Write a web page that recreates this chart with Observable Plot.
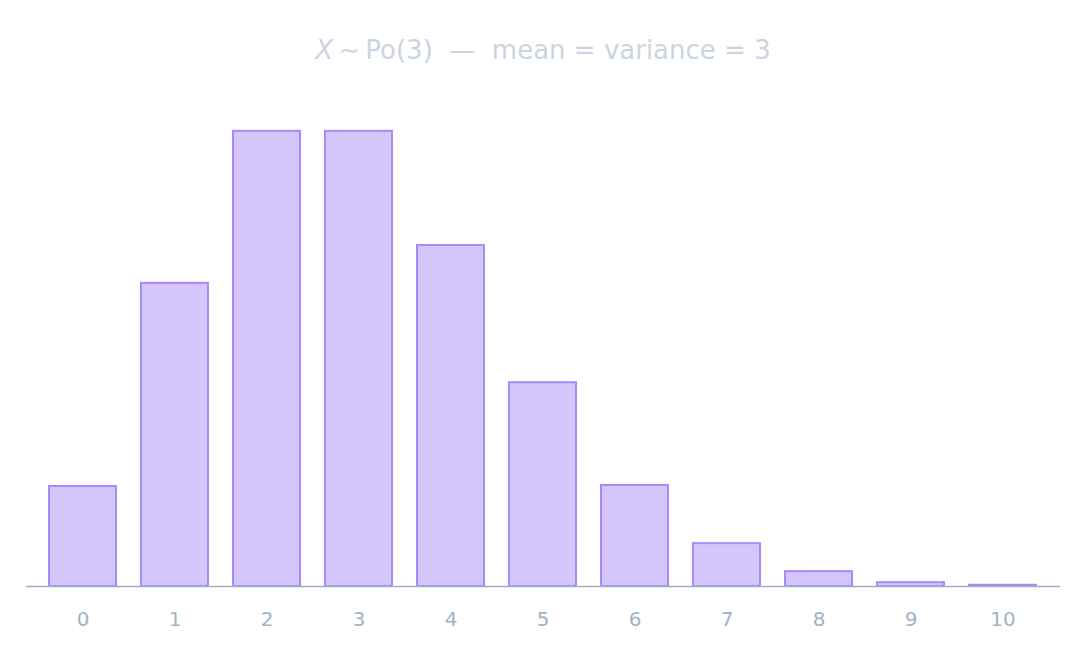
<!DOCTYPE html>
<html>
<head>
<meta charset="utf-8">
<script src="https://cdn.jsdelivr.net/npm/d3@7"></script>
<script src="https://cdn.jsdelivr.net/npm/@observablehq/plot@0.6"></script>
<style>
  html, body { margin: 0; padding: 0; background: #ffffff; }
  body { width: 1086px; height: 648px; overflow: hidden; font-family: "DejaVu Sans", sans-serif; }
  #title { height: 72px; box-sizing: border-box; padding-top: 35px; line-height: 30px; font-size: 26px; color: #cbd5e1; text-align: center; white-space: pre; }
  #title i { font-style: italic; }
</style>
</head>
<body>
<div id="title"><i>X</i>&#8201;∼&#8201;Po(3)  —  mean = variance = 3</div>
<div id="chart"></div>
<script>
const categories = ["0","1","2","3","4","5","6","7","8","9","10"];
const probabilities = [0.0492, 0.1492, 0.2240, 0.2240, 0.1678, 0.1003, 0.0497, 0.0211, 0.0073, 0.0019, 0.0006];

const data = categories.map((k, i) => ({k, p: probabilities[i]}));

const chart = Plot.plot({
  width: 1086,
  height: 576,
  marginTop: 6,
  marginBottom: 62,
  marginLeft: 26,
  marginRight: 26,
  style: {fontFamily: "DejaVu Sans, sans-serif", fontSize: "20px", background: "#ffffff"},
  x: {domain: categories, paddingInner: 0.27, paddingOuter: 0.25, label: null, tickSize: 0, tickPadding: 25},
  y: {domain: [0, 0.25], axis: null},
  marks: [
    Plot.barY(data, {x: "k", y: "p", fill: "#d4c6fb", stroke: "#a78bfa", strokeWidth: 2}),
    Plot.ruleY([0], {stroke: "#9fb0c6", strokeWidth: 1.5}),
    Plot.axisX({tickSize: 0, tickPadding: 25, color: "#9fb3c8", fontSize: 20, label: null})
  ]
});
document.getElementById("chart").appendChild(chart);
</script>
</body>
</html>
